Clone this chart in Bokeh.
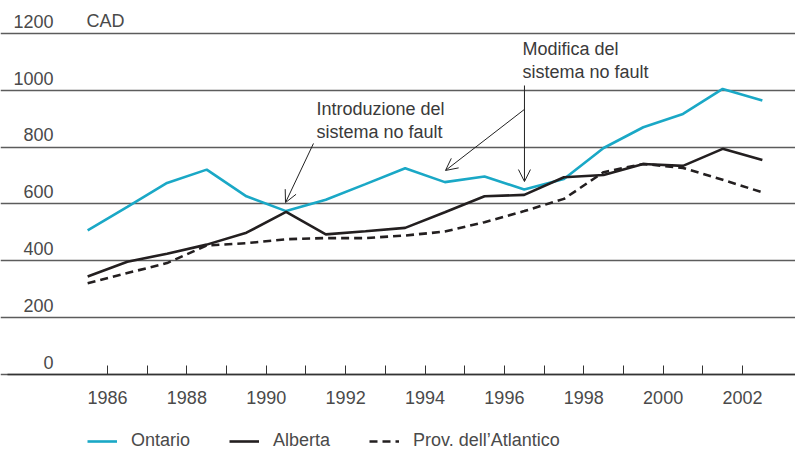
from bokeh.plotting import figure
from bokeh.models import (LinearAxis, FixedTicker, Grid, Legend, LegendItem, Arrow,
                          OpenHead, ColumnDataSource)
from bokeh.core.properties import value
from bokeh.embed import file_html
from bokeh.resources import INLINE

# ---- data ----
years = list(range(1985, 2003))
ontario = [507, 590, 674, 721, 627, 575, 615, 670, 726, 677, 697, 651, 688, 797, 870, 917, 1005, 964]
alberta = [345, 397, 425, 457, 499, 572, 493, 504, 516, 571, 627, 632, 694, 702, 741, 734, 794, 755]
atlantico = [321, 357, 392, 454, 462, 476, 480, 480, 489, 503, 536, 575, 618, 712, 741, 727, 685, 641]
y_ticks = [0, 200, 400, 600, 800, 1000, 1200]
y_tick_labels = ["0", "200", "400", "600", "800", "1000", "1200"]
x_label_years = list(range(1986, 2003, 2))
x_minor_years = list(range(1987, 2002, 2))
series_names = ["Ontario", "Alberta", "Prov. dell’Atlantico"]
unit_label = "CAD"
note1 = ["Introduzione del", "sistema no fault"]
note2 = ["Modifica del", "sistema no fault"]

FONT = "Liberation Sans"
FS = "18px"
TXT = "#4a4a4a"

xs = [y + 0.5 for y in years]
src = ColumnDataSource(dict(x=xs, ont=ontario, alb=alberta, atl=atlantico))

p = figure(width=795, height=451, output_backend="svg", toolbar_location=None,
           x_range=(1983.304, 2003.335), y_range=(-271.0, 1316.1),
           x_axis_location=None, y_axis_location=None, min_border=0,
           outline_line_color=None)
p.xgrid.visible = False
p.ygrid.visible = False

grid = Grid(dimension=1, ticker=FixedTicker(ticks=y_ticks), grid_line_color="#5c5c5c",
            grid_line_width=1.3, bounds=(1983.48, 2004))
p.add_layout(grid)

xaxis = LinearAxis(fixed_location=0, bounds=(1983.48, 2004),
                   ticker=FixedTicker(ticks=x_label_years, minor_ticks=x_minor_years),
                   major_tick_in=9, major_tick_out=0, minor_tick_in=9, minor_tick_out=0,
                   major_tick_line_color="#333333", minor_tick_line_color="#333333",
                   axis_line_color="#333333", axis_line_width=1.5,
                   major_label_standoff=17,
                   major_label_text_font=FONT, major_label_text_font_size=FS,
                   major_label_text_color=TXT)
p.add_layout(xaxis, "below")

# y tick labels sit just above their gridlines, right-aligned
label_x = 1984.64
lift = 43
p.text(x=[label_x] * len(y_ticks), y=[t + lift for t in y_ticks], text=y_tick_labels,
       text_font=value(FONT), text_font_size=FS, text_color=TXT,
       text_baseline="middle", text_align="right")
p.text(x=[1985.47], y=[1200 + lift], text=[unit_label], text_font=value(FONT), text_font_size=FS,
       text_color=TXT, text_baseline="middle", text_align="left")

r_ont = p.line("x", "ont", source=src, line_color="#1aa8c6", line_width=2.6)
r_alb = p.line("x", "alb", source=src, line_color="#231f20", line_width=2.6)
r_atl = p.line("x", "atl", source=src, line_color="#231f20", line_width=2.6, line_dash="8 5")

p.text(x=[1991.266, 1991.266], y=[936, 855], text=note1,
       text_font=value(FONT), text_font_size=FS, text_color="#3a3a3a",
       text_baseline="middle", text_align="left")
p.text(x=[1996.456, 1996.456], y=[1144, 1063], text=note2,
       text_font=value(FONT), text_font_size=FS, text_color="#3a3a3a",
       text_baseline="middle", text_align="left")

for (x0, y0, x1, y1) in [(1991.19, 813, 1990.485, 605),
                         (1996.506, 1017, 1996.506, 679),
                         (1996.506, 933, 1994.516, 718)]:
    p.add_layout(Arrow(end=OpenHead(size=12, line_width=1, line_color="#222222"),
                       x_start=x0, y_start=y0, x_end=x1, y_end=y1,
                       line_width=1, line_color="#222222"))

legend = Legend(items=[LegendItem(label=series_names[0], renderers=[r_ont]),
                       LegendItem(label=series_names[1], renderers=[r_alb]),
                       LegendItem(label=series_names[2], renderers=[r_atl])],
                location=(87, 0), orientation="horizontal", glyph_width=30, glyph_height=20,
                label_standoff=14, spacing=39, padding=0, margin=0,
                border_line_color=None, background_fill_alpha=0,
                label_text_font=FONT, label_text_font_size=FS, label_text_color=TXT)
p.add_layout(legend)

open("out.html", "w").write(file_html(p, INLINE))
